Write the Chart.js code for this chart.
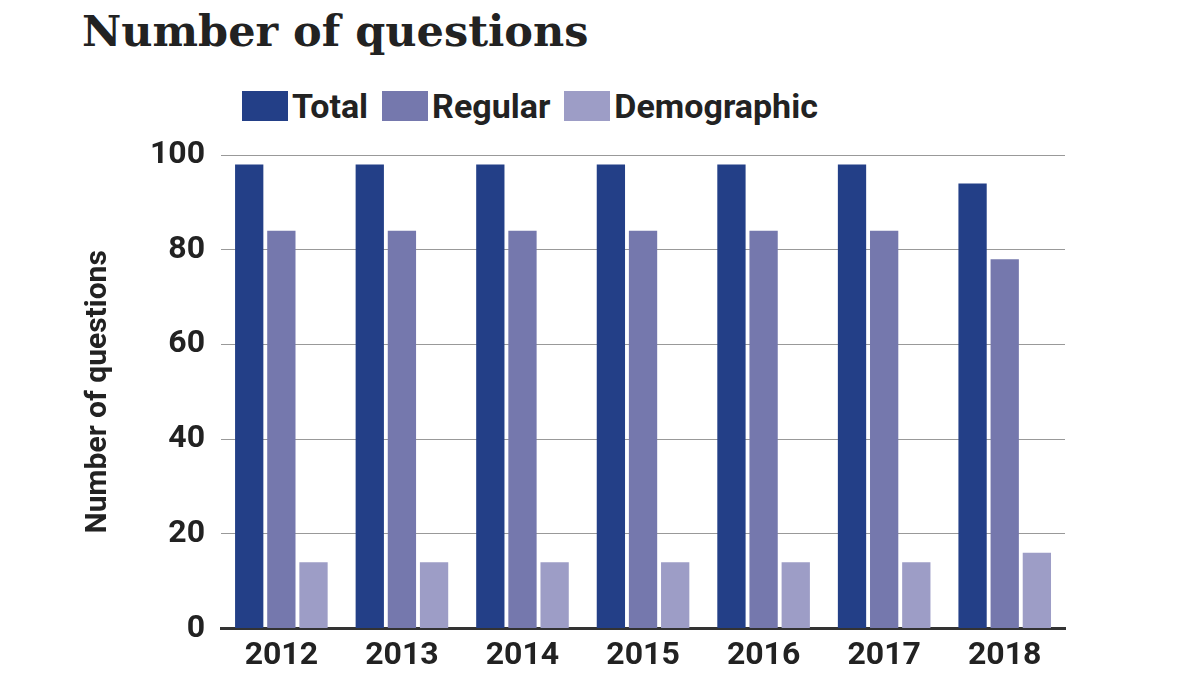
<!DOCTYPE html>
<html><head><meta charset="utf-8">
<script src="https://cdn.jsdelivr.net/npm/chart.js@4"></script>
<style>
body{margin:0;background:#fff;width:1200px;height:675px;overflow:hidden;font-family:Roboto,sans-serif}
#t{position:absolute;left:82px;top:6px;font-family:"DejaVu Serif",serif;font-weight:bold;font-size:43px;color:#222}
#leg{position:absolute;left:242px;top:86px;display:flex;font-weight:bold;font-size:34px;color:#222;font-family:Roboto,sans-serif}
#leg span{display:flex;align-items:center;margin-right:14px}
#leg i{display:inline-block;width:46px;height:30px;margin-right:4px}
#c{position:absolute;left:0;top:0}
</style></head><body>
<div id="t">Number of questions</div>
<div id="leg"><span><i style="background:#233f87"></i>Total</span><span><i style="background:#7578ad"></i>Regular</span><span><i style="background:#9d9dc6"></i>Demographic</span></div>
<canvas id="c" width="1200" height="675"></canvas>
<script>
const categories=["2012","2013","2014","2015","2016","2017","2018"];
const total=[98,98,98,98,98,98,94];
const regular=[84,84,84,84,84,84,78];
const demographic=[14,14,14,14,14,14,16];
const yTicks=[0,20,40,60,80,100];
new Chart(document.getElementById('c'),{type:'bar',
data:{labels:categories,datasets:[
{label:'Total',data:total,backgroundColor:'#233f87'},
{label:'Regular',data:regular,backgroundColor:'#7578ad'},
{label:'Demographic',data:demographic,backgroundColor:'#9d9dc6'}]},
options:{responsive:false,animation:false,
layout:{padding:{left:80,right:135,top:155,bottom:0}},
datasets:{bar:{categoryPercentage:0.8,barPercentage:0.88}},
plugins:{legend:{display:false},tooltip:{enabled:false}},
scales:{
x:{grid:{display:false},border:{color:'#333',width:3},ticks:{color:'#222',padding:0,font:{family:'Roboto',weight:'bold',size:32}}},
y:{min:0,max:100,afterBuildTicks:a=>{a.ticks=yTicks.map(v=>({value:v}))},
grid:{color:'#999',lineWidth:1,drawTicks:false},border:{display:false},
ticks:{color:'#222',padding:16,font:{family:'Roboto',weight:'bold',size:32}},
title:{display:true,text:'Number of questions',color:'#222',padding:{top:0,bottom:18},font:{family:'Roboto',weight:'bold',size:30}}}}}});
</script></body></html>
